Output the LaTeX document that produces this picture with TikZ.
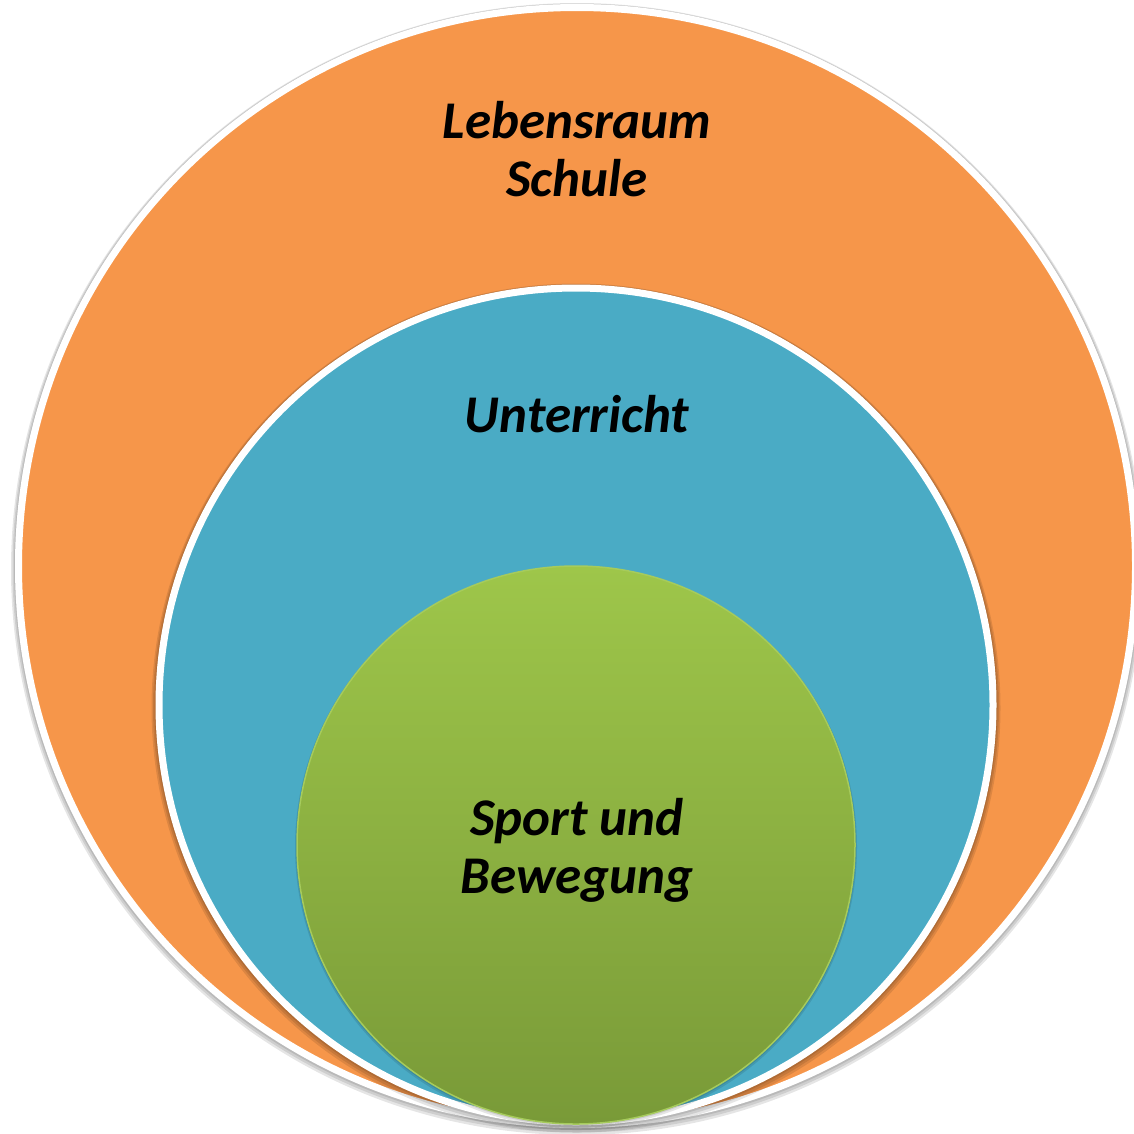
\documentclass[tikz,border=0pt]{standalone}
\usepackage{fontspec}
\setmainfont{Carlito}
\definecolor{orangeF}{HTML}{F6964A}
\definecolor{blueF}{HTML}{4AABC5}
\definecolor{greenT}{HTML}{9EC64A}
\definecolor{greenB}{HTML}{799A38}
\definecolor{greenE}{HTML}{A6CB5C}
\begin{document}
\begin{tikzpicture}[x=1pt,y=-1pt,
  ring/.style={circle, inner sep=0pt, outer sep=0pt},
  shad/.style={circle, inner sep=0pt, fill=black, opacity=0.10},
  lbl/.style={inner sep=0pt, align=center, font=\fontsize{53}{58}\selectfont\bfseries\itshape}]
\useasboundingbox (0,0) rectangle (1134,1133);
% shadows
\foreach \d/\e in {1/1,2.5/2,4/3}{
  \node[shad, minimum size={2*(562+\d)*1pt}] at (577,{566+\e}) {};
}
\node[ring, fill=orangeF, draw=white, line width=7pt, minimum size=1117pt] (outer) at (577,566) {};
\foreach \d/\e in {1/1,2.5/2,4/3}{
  \node[shad, minimum size={2*(420.5+\d)*1pt}] at (576,{705+\e}) {};
}
\node[ring, fill=blueF, draw=white, line width=7pt, minimum size=834pt] (mid) at (576,705) {};
\foreach \d/\e in {1/1,2/2}{
  \node[shad, minimum size={2*(279+\d)*1pt}] at (576,{845+\e}) {};
}
\node[ring, top color=greenT, bottom color=greenB, draw=greenE, line width=1.5pt, minimum size=558pt] (inner) at (576,845) {};
\node[lbl] (t1) at (577,149.5) {Lebensraum\\Schule};
\node[lbl, anchor=base] (t2) at (577,432) {Unterricht};
\node[lbl] (t3) at (577,850) {Sport und\\Bewegung};
\end{tikzpicture}
\end{document}
